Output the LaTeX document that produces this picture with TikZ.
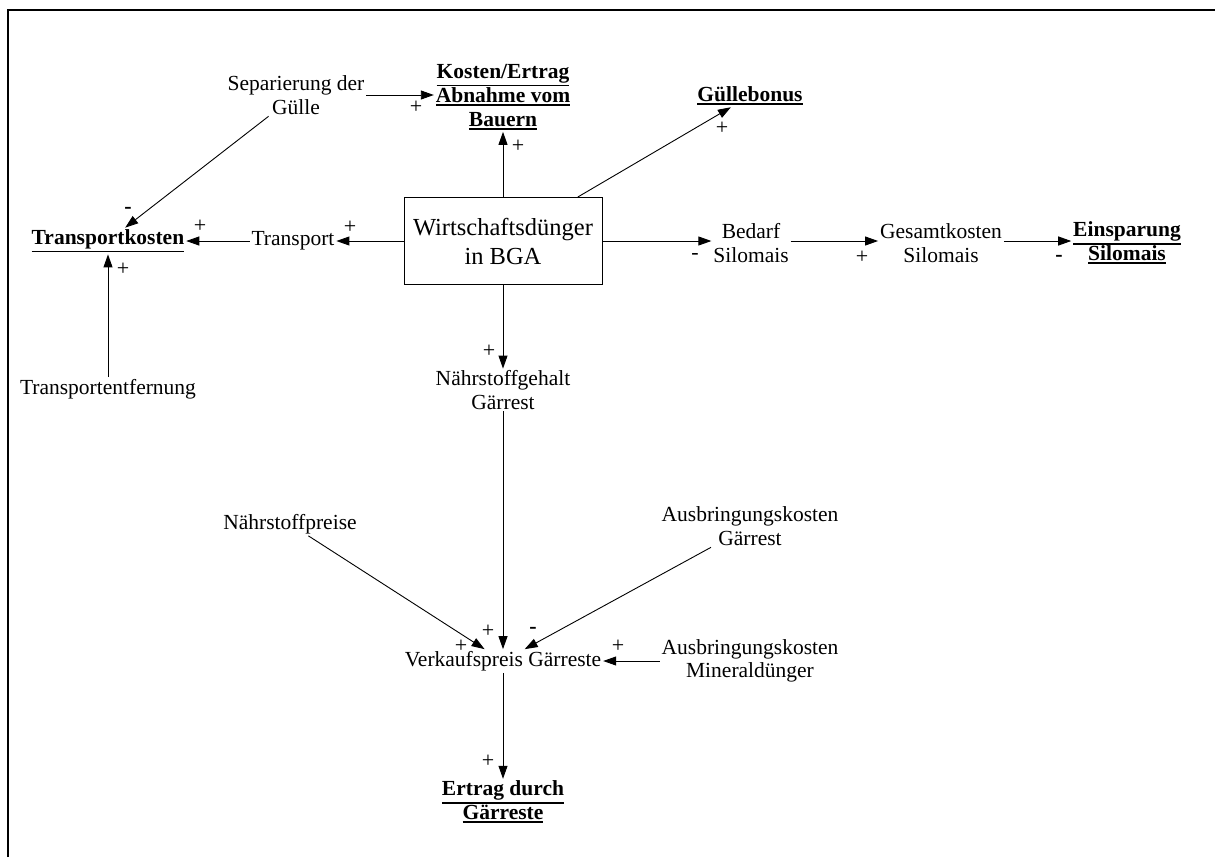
\documentclass[tikz,border=0pt]{standalone}
\usepackage{fontspec}
\setmainfont{Liberation Serif}
\usetikzlibrary{arrows.meta}
\newcommand\myul[1]{\leavevmode\vtop{\hbox{#1}\kern1.5pt\hrule height 1.8pt}}
\begin{document}
\begin{tikzpicture}[x=1pt,y=-1pt,
  lbl/.style={inner sep=2pt,outer sep=0pt,align=center,font=\fontsize{21.5}{23.5}\selectfont},
  bld/.style={inner sep=2pt,outer sep=0pt,align=center,font=\fontsize{21.5}{24}\selectfont\bfseries},
  mainbox/.style={draw,line width=1pt,minimum width=198pt,minimum height=87pt,align=center,font=\fontsize{24.5}{29}\selectfont,inner sep=0pt},
  sgn/.style={inner sep=0pt,font=\fontsize{22}{22}\selectfont},
  bsgn/.style={inner sep=0pt,font=\fontsize{22}{22}\selectfont\bfseries},
  arr/.style={line width=0.9pt,-{Triangle[length=13pt,width=9pt]}}]
\useasboundingbox (0,0) rectangle (1215,857);
\draw[line width=2pt] (8,857) -- (8,10) -- (1215,10);

\node[mainbox] (box) at (503,241) {Wirtschaftsdünger\\in BGA};
\node[bld] (kost) at (503,97) {\myul{Kosten/Ertrag}\\\myul{Abnahme vom}\\\myul{Bauern}};
\node[lbl] (sep) at (296,95) {Separierung der\\Gülle};
\node[bld] (gb) at (750,96) {\myul{Güllebonus}};
\node[bld] (tk) at (108,241) {\myul{Transportkosten}};
\node[lbl] (tr) at (293,241) {Transport};
\node[lbl] (te) at (108,389) {Transportentfernung};
\node[lbl] (bs) at (751,243) {Bedarf\\Silomais};
\node[lbl] (gs) at (941,243) {Gesamtkosten\\Silomais};
\node[bld] (es) at (1127,243) {\myul{Einsparung}\\\myul{Silomais}};
\node[lbl] (nge) at (503,390) {Nährstoffgehalt\\Gärrest};
\node[lbl] (np) at (290,524) {Nährstoffpreise};
\node[lbl] (ag) at (750,526) {Ausbringungskosten\\Gärrest};
\node[lbl] (vk) at (503,661) {Verkaufspreis Gärreste};
\node[lbl] (am) at (750,661) {Ausbringungskosten\\Mineraldünger};
\node[bld] (ertr) at (503,802) {\myul{Ertrag durch}\\\myul{Gärreste}};

\draw[arr] (box.north) -- (box.north |- kost.south);
\draw[arr] (sep.east) -- (sep.east -| kost.west);
\draw[arr] (sep) -- (tk);
\draw[arr] (box) -- (gb);
\draw[arr] (box.west) -- (box.west -| tr.east);
\draw[arr] (tr.west) -- (tr.west -| tk.east);
\draw[arr] (te.north) -- (tk.south);
\draw[arr] (box.east) -- (box.east -| bs.west);
\draw[arr] (bs.east |- box.east) -- (box.east -| gs.west);
\draw[arr] (gs.east |- box.east) -- (box.east -| es.west);
\draw[arr] (box.south) -- (nge.north);
\draw[arr] (nge.south) -- (vk.north);
\draw[arr] (np) -- (vk);
\draw[arr] (ag) -- (vk);
\draw[arr] (am.west) -- (vk.east);
\draw[arr] (vk.south) -- (ertr.north);

\node[sgn] (s1) at (518,146) {+};
\node[sgn] (s2) at (416,107) {+};
\node[bsgn] (s3) at (128,210) {-};
\node[sgn] (s4) at (722,128) {+};
\node[sgn] (s5) at (350,227) {+};
\node[sgn] (s6) at (200,226) {+};
\node[sgn] (s7) at (123,269) {+};
\node[sgn] (s8) at (695,256) {-};
\node[sgn] (s9) at (862,257) {+};
\node[bsgn] (s10) at (1059,258) {-};
\node[sgn] (s11) at (489,351) {+};
\node[sgn] (s12) at (488,631) {+};
\node[sgn] (s13) at (461,646) {+};
\node[bsgn] (s14) at (533,630) {-};
\node[sgn] (s15) at (618,646) {+};
\node[sgn] (s16) at (488,761) {+};
\end{tikzpicture}
\end{document}
